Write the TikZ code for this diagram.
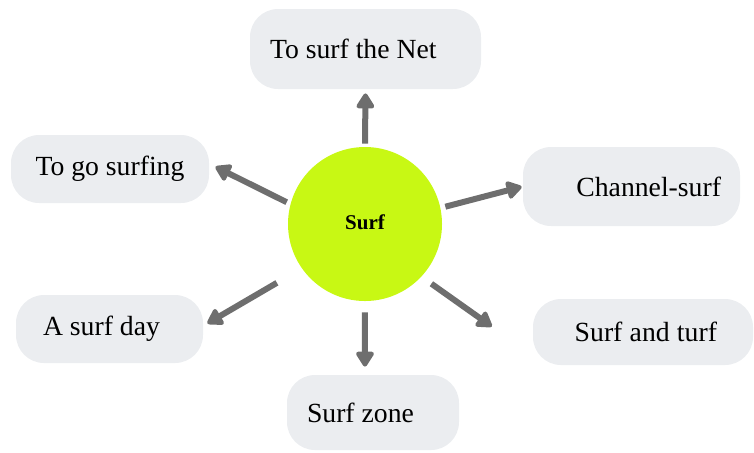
\documentclass[tikz,border=0pt]{standalone}
\usepackage{fontspec}
\setmainfont{Liberation Serif}
\usetikzlibrary{arrows.meta}
\definecolor{surfgreen}{HTML}{C8F814}
\definecolor{pillgray}{HTML}{EBEDF0}
\definecolor{arrowgray}{HTML}{6E6E6E}

\begin{document}
\begin{tikzpicture}[x=0.5pt, y=-0.5pt, >={Triangle[width=10pt,length=8.5pt,round]},
  pill/.style={fill=pillgray, rounded corners=14pt, inner ysep=0pt, font=\fontsize{13.85}{16}\selectfont,
    execute at begin node={\spaceskip=0pt\xspaceskip=0pt\relax}},
  link/.style={->, draw=arrowgray, fill=arrowgray, line width=3pt}]
  \useasboundingbox (0,0) rectangle (754,452);
  % centre
  \node[circle, fill=surfgreen, minimum size=77pt, inner sep=0pt, font=\fontsize{10.5}{12}\selectfont\bfseries] (surf) at (365,224) {\raisebox{2pt}{Surf}};
  % meanings
  \node[pill, minimum height=40pt, inner xsep=10pt, text width=95.5pt, align=left] (net) at (365.5,49) {To surf the Net};
  \node[pill, minimum height=39.5pt, inner xsep=9.5pt, text width=89.5pt, align=right] (chan) at (631.5,186.5) {Channel-surf};
  \node[pill, minimum height=34pt, minimum width=99pt] (go) at (110,169) {To go surfing};
  \node[pill, minimum height=34pt, inner xsep=13.5pt, text width=66.5pt, align=left] (day) at (109.5,329) {A surf day};
  \node[pill, minimum height=37.5pt, inner xsep=10pt, text width=66pt, align=left] (zone) at (373,412.5) {Surf zone};
  \node[pill, minimum height=33pt, inner xsep=18pt, text width=74pt, align=right] (turf) at (643,332) {Surf and turf};
  % arrows
  \draw[link, shorten <=1.5pt, shorten >=2pt] (surf.90) -- (net.south);
  \draw[link, shorten <=2pt, shorten >=3.4pt] (surf.165) -- (go.3);
  \draw[link, shorten <=2.4pt, shorten >=0.5pt] (surf.12) -- (chan.west);
  \draw[link, shorten <=14.3pt, shorten >=2.3pt] (surf.215) -- (day.2);
  \draw[link, shorten <=5.5pt, shorten >=4pt] (surf.south) -- (zone.102);
  \draw[link, shorten <=6pt, shorten >=25pt] (surf.-43) -- (turf.192);
\end{tikzpicture}
\end{document}
